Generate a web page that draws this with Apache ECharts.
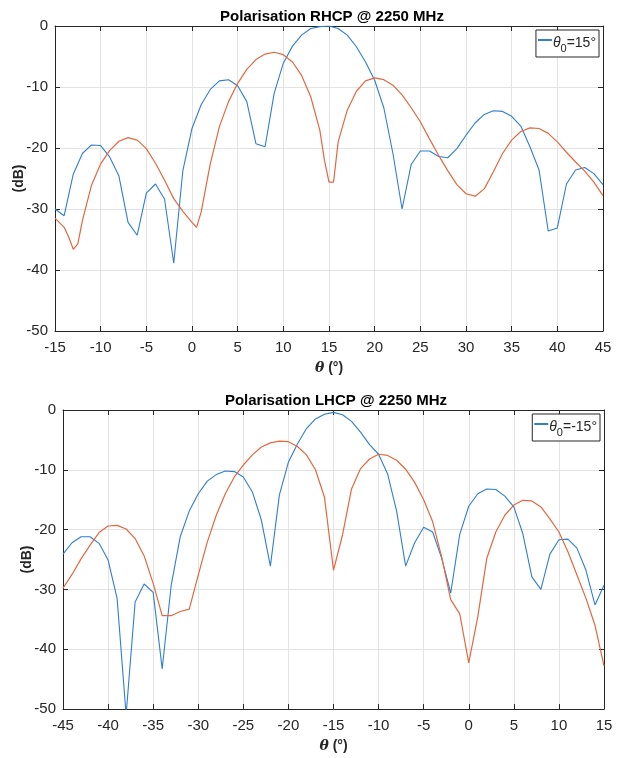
<!DOCTYPE html>
<html>
<head>
<meta charset="utf-8">
<script src="https://cdn.jsdelivr.net/npm/echarts@6/dist/echarts.min.js"></script>
<style>
  html, body { margin: 0; padding: 0; background: #fff; }
  #chart { width: 621px; height: 758px; }
</style>
</head>
<body>
<div id="chart"></div>
<script>
// RHCP (top) : theta axis -15..45
const thetaTop = [-15, -14, -13, -12, -11, -10, -9, -8, -7, -6, -5, -4, -3, -2, -1, 0, 1, 2, 3, 4, 5,
  6, 7, 8, 9, 10, 11, 12, 13, 14, 15, 16, 17, 18, 19, 20, 21, 22, 23, 24, 25, 26, 27, 28, 29, 30,
  31, 32, 33, 34, 35, 36, 37, 38, 39, 40, 41, 42, 43, 44, 45]
const blueTop = [-30.0, -31.1, -24.3, -20.9, -19.5, -19.6, -21.5, -24.6, -32.2, -34.3, -27.4, -25.9, -28.4, -38.9, -23.7,
  -16.8, -12.9, -10.4, -9.0, -8.8, -9.8, -12.4, -19.3, -19.8, -11.0, -6.1, -3.3, -1.5, -0.4, -0.1, 0,
  -0.4, -1.5, -3.4, -5.9, -8.9, -13.4, -20.9, -30.0, -22.7, -20.5, -20.5, -21.4, -21.6, -20.1, -17.9,
  -15.9, -14.5, -13.9, -14.0, -14.8, -16.4, -19.8, -23.6, -33.6, -33.1, -25.9, -23.6, -23.2, -24.2, -26.0]
const redTopTheta = [-15, -14, -13.5, -13, -12.5, -12, -11, -10, -9, -8, -7, -6, -5, -4, -3, -2, -1, 0, 0.5, 1,
  2, 3, 4, 5, 6, 7, 8, 9, 10, 11, 12, 13, 14, 14.5, 15, 15.5, 16, 17, 18, 19, 20, 21, 22, 23, 24, 25,
  26, 27, 28, 29, 30, 31, 32, 33, 34, 35, 36, 37, 38, 39, 40, 41, 42, 43, 44, 45]
const redTop = [-31.5, -33.0, -34.6, -36.6, -35.7, -31.9, -26.1, -22.6, -20.4, -18.9, -18.3, -18.7, -20.1, -22.5, -25.3,
  -28.3, -30.4, -32.2, -33.0, -30.5, -22.6, -16.5, -12.4, -9.4, -7.1, -5.5, -4.6, -4.3, -4.7, -5.9, -8.1,
  -11.6, -17.1, -22.0, -25.6, -25.6, -19.0, -13.8, -10.7, -9.0, -8.5, -8.8, -9.7, -11.3, -13.4, -15.7,
  -18.5, -21.2, -23.7, -26.0, -27.5, -27.9, -26.7, -23.9, -20.9, -18.7, -17.3, -16.7, -16.8, -17.6, -19.0,
  -20.7, -22.3, -23.8, -25.6, -27.8]

// LHCP (bottom) : theta axis -45..15
const thetaBot = [-45, -44, -43, -42, -41, -40, -39, -38, -37, -36, -35, -34, -33, -32, -31, -30, -29, -28, -27,
  -26, -25, -24, -23, -22, -21, -20, -19, -18, -17, -16, -15, -14, -13, -12, -11, -10, -9, -8, -7, -6,
  -5, -4, -3, -2, -1, 0, 1, 2, 3, 4, 5, 6, 7, 8, 9, 10, 11, 12, 13, 14, 15]
const blueBot = [-24.1, -22.2, -21.2, -21.2, -22.3, -25.1, -31.5, -51.0, -32.1, -29.1, -30.5, -43.3, -29.3, -21.2, -16.9,
  -14.0, -11.9, -10.8, -10.2, -10.3, -11.2, -13.7, -18.4, -26.1, -14.2, -8.7, -5.7, -3.1, -1.5, -0.7, -0.4,
  -0.8, -1.9, -3.7, -5.8, -7.4, -10.7, -16.9, -26.1, -22.2, -19.6, -20.4, -24.8, -30.6, -20.8, -16.1,
  -14.0, -13.2, -13.3, -14.4, -16.2, -20.7, -27.9, -30.0, -24.1, -21.7, -21.6, -23.1, -26.8, -32.6, -29.3]
const redBot = [-29.8, -27.5, -24.9, -22.6, -20.5, -19.4, -19.3, -19.9, -21.5, -24.4, -29.0, -34.4, -34.4, -33.7, -33.3,
  -27.6, -22.1, -17.6, -14.0, -11.2, -9.2, -7.5, -6.2, -5.5, -5.2, -5.3, -6.1, -7.5, -10.0, -14.6, -26.8,
  -20.9, -13.2, -9.8, -8.2, -7.4, -7.6, -8.4, -9.9, -12.1, -15.0, -18.7, -24.6, -31.7, -34.1, -42.3,
  -34.6, -24.8, -20.4, -17.6, -15.9, -15.1, -15.2, -16.2, -18.2, -20.4, -23.7, -27.6, -31.5, -36.0, -42.8]

const yTicks = [0, -10, -20, -30, -40, -50]

const BLUE = '#2F7ED0'
const RED = '#E2683F'
const INK = '#262626'
const FONT = '"Liberation Sans", Arial, Helvetica, sans-serif'

const pairs = (xs, ys) => xs.map((x, i) => [x, ys[i]])

//坐标轴样式
const xAxisCfg = (gridIndex, min, max, main) => ({
  type: 'value', gridIndex, min, max, interval: 5,
  position: main ? 'bottom' : 'top',
  axisLine: { show: true, onZero: false, lineStyle: { color: INK, width: 1 } },
  axisTick: { show: true, inside: true, length: 5, lineStyle: { color: INK } },
  axisLabel: { show: main, color: INK, fontSize: 15, fontFamily: FONT, margin: 9 },
  splitLine: { show: main, lineStyle: { color: '#e3e3e3', width: 1 } },
  name: main ? '{i|θ} (°)' : '',
  nameLocation: 'middle', nameGap: 30, nameMoveOverlap: false,
  nameTextStyle: {
    color: INK, fontSize: 14, fontWeight: 'bold', fontFamily: FONT,
    rich: { i: { fontStyle: 'italic', fontWeight: 'bold', fontSize: 14, fontFamily: 'DejaVu Serif, serif', color: INK } }
  }
})
const yAxisCfg = (gridIndex, main) => ({
  type: 'value', gridIndex, min: -50, max: 0, interval: 10,
  position: main ? 'left' : 'right',
  axisLine: { show: true, onZero: false, lineStyle: { color: INK, width: 1 } },
  axisTick: { show: true, inside: true, length: 5, lineStyle: { color: INK } },
  axisLabel: { show: main, color: INK, fontSize: 15, fontFamily: FONT, margin: 7,
    formatter: v => yTicks.includes(v) ? String(v) : '' },
  splitLine: { show: main, lineStyle: { color: '#e3e3e3', width: 1 } },
  name: main ? '(dB)' : '',
  nameLocation: 'middle', nameGap: 29, nameRotate: 90, nameMoveOverlap: false,
  nameTextStyle: { color: INK, fontSize: 14, fontWeight: 'bold', fontFamily: FONT }
})

//图例: θ 下标 0
const legendRich = {
  i: { fontStyle: 'italic', fontSize: 14, fontFamily: FONT, color: INK, lineHeight: 14, verticalAlign: 'top', padding: [3, 0, 0, 0] },
  s: { fontSize: 11, fontFamily: FONT, color: INK, lineHeight: 12, verticalAlign: 'top', padding: [10, 0, 0, 0] },
  n: { fontSize: 14, fontFamily: FONT, color: INK, lineHeight: 14, verticalAlign: 'top', padding: [3, 0, 0, 0] }
}
const legendCfg = (top, right, name) => ({
  data: [name], top, right, orient: 'vertical',
  backgroundColor: '#fff', borderColor: INK, borderWidth: 1, borderRadius: 0,
  padding: [3, 3, 3, 2], itemWidth: 14, itemHeight: 2, itemGap: 0,
  icon: 'rect', selectedMode: false,
  textStyle: { rich: legendRich, padding: [0, 0, 0, -4] },
  formatter: n => n === 'top' ? '{i|θ}{s|0}{n|=15°}' : '{i|θ}{s|0}{n|=-15°}'
})

const lineSeries = (name, xi, yi, data, color, width) => ({
  name, type: 'line', xAxisIndex: xi, yAxisIndex: yi, data,
  showSymbol: false, symbol: 'none', clip: true, animation: false,
  lineStyle: { color, width }, itemStyle: { color }
})

const chart = echarts.init(document.getElementById('chart'), null, { renderer: 'canvas' })
chart.setOption({
  backgroundColor: '#fff',
  animation: false,
  title: [
    { text: 'Polarisation RHCP @ 2250 MHz', left: 327, textAlign: 'center', top: 4,
      textStyle: { fontSize: 15, fontWeight: 'bold', color: '#000', fontFamily: FONT } },
    { text: 'Polarisation LHCP @ 2250 MHz', left: 331, textAlign: 'center', top: 388,
      textStyle: { fontSize: 15, fontWeight: 'bold', color: '#000', fontFamily: FONT } }
  ],
  legend: [legendCfg(30, 22, 'top'), legendCfg(414, 21, 'bot')],
  grid: [
    { left: 55, top: 26, width: 548, height: 305, containLabel: false, outerBoundsMode: 'none' },
    { left: 63, top: 410, width: 541, height: 299, containLabel: false, outerBoundsMode: 'none' }
  ],
  xAxis: [
    xAxisCfg(0, -15, 45, true), xAxisCfg(0, -15, 45, false),
    xAxisCfg(1, -45, 15, true), xAxisCfg(1, -45, 15, false)
  ],
  yAxis: [
    yAxisCfg(0, true), yAxisCfg(0, false),
    yAxisCfg(1, true), yAxisCfg(1, false)
  ],
  series: [
    lineSeries('top', 0, 0, pairs(thetaTop, blueTop), BLUE, 1.1),
    lineSeries('topRef', 0, 0, pairs(redTopTheta, redTop), RED, 1.2),
    lineSeries('bot', 2, 2, pairs(thetaBot, blueBot), BLUE, 1.1),
    lineSeries('botRef', 2, 2, pairs(thetaBot, redBot), RED, 1.2)
  ]
})
</script>
</body>
</html>
